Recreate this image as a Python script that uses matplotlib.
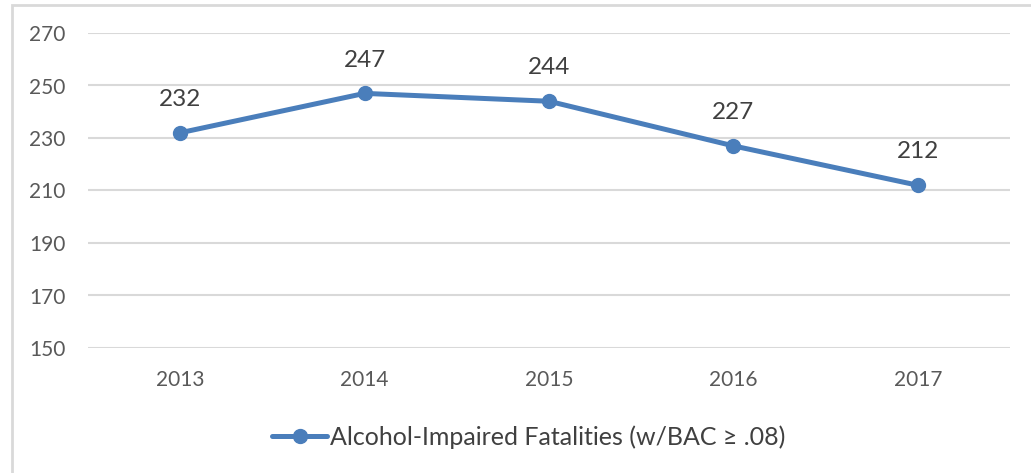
import matplotlib
matplotlib.use('Agg')
import matplotlib.pyplot as plt
from matplotlib.patches import Rectangle

years = ['2013', '2014', '2015', '2016', '2017']
fatalities = [232, 247, 244, 227, 212]
y_ticks = [150, 170, 190, 210, 230, 250, 270]
series_name = 'Alcohol-Impaired Fatalities (w/BAC \u2265 .08)'

plt.rcParams['font.family'] = ['Lato', 'DejaVu Sans']

LINE_COLOR = '#4a7ebb'
TEXT_COLOR = '#404040'
GRID_COLOR = '#d9d9d9'

fig = plt.figure(figsize=(10.31, 4.73), dpi=100)
fig.patch.set_facecolor('white')

# chart border (only left and top edges visible in the crop)
fig.patches.append(Rectangle((12 / 1031, -0.1), 1.2, 0.1 + (1 - 5 / 473),
                             transform=fig.transFigure, fill=False,
                             edgecolor=GRID_COLOR, linewidth=2))

ax = fig.add_axes([88 / 1031, 1 - 348 / 473, (1010 - 88) / 1031, (348 - 33) / 473])

x = list(range(len(years)))
ax.plot(x, fatalities, color=LINE_COLOR, linewidth=3.6, marker='o',
        markersize=10, solid_capstyle='round', label=series_name, zorder=3)

for xi, v in zip(x, fatalities):
    ax.annotate(str(v), (xi, v), xytext=(0, 24), textcoords='offset points',
                ha='center', va='center', fontsize=17.5, color=TEXT_COLOR)

ax.set_xlim(-0.5, len(years) - 0.5)
ax.set_ylim(150, 270)
ax.set_yticks(y_ticks)
ax.set_xticks(x)
ax.set_xticklabels(years)
ax.grid(axis='y', color=GRID_COLOR, linewidth=1.5)
ax.set_axisbelow(True)
for s in ax.spines.values():
    s.set_visible(False)
ax.tick_params(axis='both', length=0, labelsize=15, labelcolor='#595959')
ax.tick_params(axis='y', pad=16)
ax.tick_params(axis='x', pad=16)

fig.legend(loc='center', bbox_to_anchor=(0.513, 1 - 437 / 473), frameon=False,
           fontsize=18, handlelength=2.2, handletextpad=0.1, labelcolor='#404040')

fig.savefig('out.png', dpi=100)
